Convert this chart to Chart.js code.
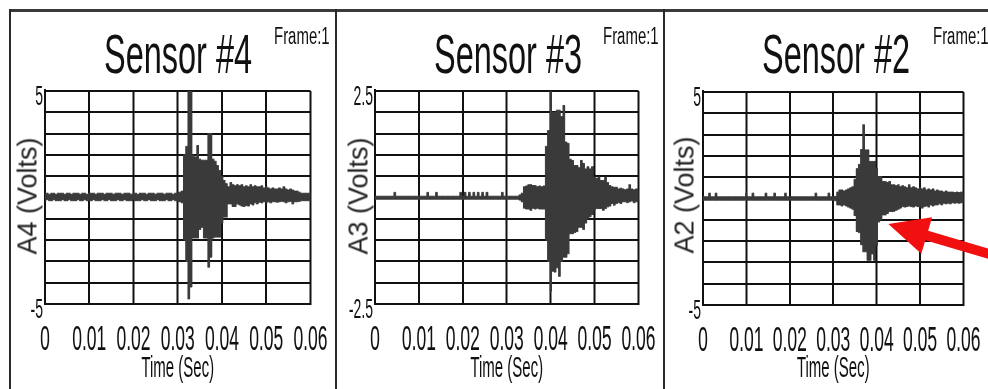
<!DOCTYPE html>
<html>
<head>
<meta charset="utf-8">
<script src="https://cdn.jsdelivr.net/npm/chart.js@4.4.0/dist/chart.umd.min.js"></script>
<style>
  html, body { margin: 0; padding: 0; overflow: hidden; }
  body { width: 988px; height: 389px; position: relative; background: #fff; color: #111;
         font-family: "Liberation Sans", Arial, sans-serif; }
  .wrap { position: absolute; top: 13px; transform: scaleX(0.5); transform-origin: 0 0; }
  .rule { position: absolute; background: #2a2a2a; }
  .title { position: absolute; top: 26px; font-size: 56px; line-height: 1; white-space: nowrap;
           transform: translateX(-50%) scaleX(0.58); }
  .frame { position: absolute; top: 25px; font-size: 23px; line-height: 1; white-space: nowrap;
           transform: scaleX(0.65); transform-origin: 0 0; }
  .ytitle { position: absolute; font-size: 27px; line-height: 1; white-space: nowrap; color: #222;
            transform: translate(-50%, -50%) rotate(-90deg); }
</style>
</head>
<body>

<div class="wrap" style="left:11px"><canvas id="c4" width="648" height="376"></canvas></div>
<div class="wrap" style="left:337px"><canvas id="c3" width="652" height="376"></canvas></div>
<div class="wrap" style="left:665px"><canvas id="c2" width="646" height="376"></canvas></div>

<!-- cadres des trois panneaux -->
<div class="rule" style="left:9px; top:9px; width:979px; height:3px; background:#3a3a3a"></div>
<div class="rule" style="left:9px; top:9px; width:2px; height:380px"></div>
<div class="rule" style="left:335px; top:9px; width:2px; height:380px"></div>
<div class="rule" style="left:663px; top:9px; width:2px; height:380px"></div>

<div class="title" style="left:178px">Sensor #4</div>
<div class="title" style="left:508px">Sensor #3</div>
<div class="title" style="left:836px">Sensor #2</div>

<div class="frame" style="left:274px">Frame:1</div>
<div class="frame" style="left:603px">Frame:1</div>
<div class="frame" style="left:933px">Frame:1</div>

<div class="ytitle" style="left:28px; top:196px">A4 (Volts)</div>
<div class="ytitle" style="left:359px; top:196px">A3 (Volts)</div>
<div class="ytitle" style="left:685px; top:195px">A2 (Volts)</div>

<script>
// Pas d'échantillonnage : une paire (max, min) toutes les 0.5 ms, de 0 à 0.06 s
const step = 0.0005;
const xTickLabels = ['0', '0.01', '0.02', '0.03', '0.04', '0.05', '0.06'];

// Sensor #4 (A4), échelle ±5 V
const s4TickLabels = ['-5', '5'];
const s4Hi = [
  0.2, 0.2, 0.15, 0.2, 0.2, 0.15, 0.2, 0.2, 0.2, 0.15,
  0.2, 0.2, 0.15, 0.2, 0.2, 0.2, 0.15, 0.2, 0.2, 0.15,
  0.2, 0.2, 0.2, 0.15, 0.2, 0.2, 0.2, 0.15, 0.2, 0.2,
  0.2, 0.15, 0.2, 0.2, 0.2, 0.15, 0.2, 0.2, 0.2, 0.15,
  0.2, 0.2, 0.15, 0.2, 0.2, 0.2, 0.15, 0.2, 0.2, 0.2,
  0.15, 0.2, 0.2, 0.2, 0.15, 0.2, 0.2, 0.2, 0.15, 0.2,
  0.2, 0.25, 0.3, 2.0, 2.4, 5.0, 5.0, 2.0, 1.9, 2.44,
  1.8, 1.75, 1.75, 1.75, 3.0, 3.0, 1.8, 1.7, 1.5, 1.27,
  1.0, 0.8, 0.65, 0.5, 0.7, 0.6, 0.55, 0.6, 0.55, 0.6,
  0.5, 0.55, 0.5, 0.6, 0.5, 0.55, 0.5, 0.5, 0.55, 0.45,
  0.5, 0.45, 0.4, 0.45, 0.4, 0.4, 0.45, 0.4, 0.5, 0.4,
  0.35, 0.4, 0.35, 0.3, 0.3, 0.25, 0.2, 0.2, 0.2, 0.2,
  0.2
];
const s4Lo = [
  -0.15, -0.1, -0.15, -0.15, -0.1, -0.15, -0.15, -0.15, -0.1, -0.15,
  -0.15, -0.1, -0.15, -0.15, -0.15, -0.1, -0.15, -0.15, -0.1, -0.15,
  -0.15, -0.15, -0.1, -0.15, -0.15, -0.15, -0.1, -0.15, -0.15, -0.1,
  -0.15, -0.15, -0.15, -0.1, -0.15, -0.15, -0.1, -0.15, -0.15, -0.15,
  -0.1, -0.15, -0.15, -0.15, -0.1, -0.15, -0.15, -0.1, -0.15, -0.15,
  -0.15, -0.1, -0.15, -0.15, -0.15, -0.1, -0.15, -0.15, -0.1, -0.15,
  -0.15, -0.2, -0.25, -2.0, -3.0, -4.76, -4.2, -1.9, -1.9, -1.9,
  -1.5, -1.4, -1.9, -1.9, -3.27, -2.8, -1.9, -1.86, -1.86, -1.86,
  -1.2, -0.92, -0.92, -0.3, -0.3, -0.42, -0.42, -0.3, -0.35, -0.4,
  -0.42, -0.38, -0.4, -0.3, -0.35, -0.25, -0.3, -0.22, -0.25, -0.2,
  -0.25, -0.2, -0.25, -0.2, -0.2, -0.22, -0.2, -0.18, -0.2, -0.25,
  -0.2, -0.18, -0.3, -0.2, -0.2, -0.18, -0.15, -0.15, -0.15, -0.15,
  -0.15
];

// Sensor #3 (A3), échelle ±2.5 V
const s3TickLabels = ['-2.5', '2.5'];
const s3Hi = [
  0.03, 0.03, 0.03, 0.03, 0.03, 0.03, 0.03, 0.03, 0.03, 0.12,
  0.03, 0.03, 0.03, 0.03, 0.03, 0.03, 0.03, 0.03, 0.03, 0.03,
  0.03, 0.03, 0.03, 0.03, 0.12, 0.03, 0.03, 0.03, 0.12, 0.03,
  0.03, 0.03, 0.03, 0.03, 0.03, 0.03, 0.03, 0.03, 0.03, 0.12,
  0.03, 0.12, 0.03, 0.12, 0.03, 0.12, 0.03, 0.12, 0.03, 0.12,
  0.03, 0.12, 0.03, 0.03, 0.03, 0.03, 0.03, 0.03, 0.12, 0.03,
  0.03, 0.03, 0.03, 0.03, 0.03, 0.03, 0.06, 0.1, 0.25, 0.27,
  0.3, 0.3, 0.28, 0.28, 0.25, 0.27, 0.25, 0.27, 1.2, 1.57,
  2.5, 2.0, 2.0, 2.05, 2.05, 1.9, 2.16, 1.3, 1.27, 0.9,
  0.87, 0.75, 0.75, 0.7, 0.87, 0.8, 0.67, 0.72, 0.67, 0.72,
  0.48, 0.45, 0.48, 0.4, 0.4, 0.48, 0.35, 0.28, 0.25, 0.24,
  0.24, 0.2, 0.22, 0.2, 0.18, 0.2, 0.3, 0.2, 0.18, 0.2,
  0.18
];
const s3Lo = [
  -0.04, -0.04, -0.04, -0.04, -0.04, -0.04, -0.04, -0.04, -0.04, -0.04,
  -0.04, -0.04, -0.04, -0.04, -0.04, -0.04, -0.04, -0.04, -0.04, -0.04,
  -0.04, -0.04, -0.04, -0.04, -0.04, -0.04, -0.04, -0.04, -0.04, -0.04,
  -0.04, -0.04, -0.04, -0.04, -0.04, -0.04, -0.04, -0.04, -0.04, -0.04,
  -0.04, -0.04, -0.04, -0.04, -0.04, -0.04, -0.04, -0.04, -0.04, -0.04,
  -0.04, -0.04, -0.04, -0.04, -0.04, -0.04, -0.04, -0.04, -0.04, -0.04,
  -0.04, -0.04, -0.04, -0.04, -0.04, -0.04, -0.06, -0.1, -0.25, -0.27,
  -0.27, -0.3, -0.25, -0.27, -0.25, -0.27, -0.27, -0.27, -1.0, -1.5,
  -2.2, -1.73, -1.75, -1.65, -1.85, -1.5, -1.4, -1.4, -1.32, -0.85,
  -0.85, -0.82, -0.8, -0.7, -0.7, -0.75, -0.6, -0.5, -0.45, -0.4,
  -0.3, -0.26, -0.26, -0.26, -0.3, -0.26, -0.22, -0.2, -0.14, -0.18,
  -0.14, -0.12, -0.14, -0.1, -0.1, -0.12, -0.1, -0.08, -0.12, -0.1,
  -0.1
];

// Sensor #2 (A2), échelle ±5 V
const s2TickLabels = ['-5', '5'];
const s2Hi = [
  0.08, 0.08, 0.08, 0.25, 0.08, 0.08, 0.25, 0.08, 0.08, 0.08,
  0.08, 0.08, 0.08, 0.08, 0.08, 0.08, 0.08, 0.08, 0.08, 0.08,
  0.25, 0.08, 0.08, 0.25, 0.08, 0.08, 0.08, 0.08, 0.08, 0.25,
  0.08, 0.08, 0.08, 0.25, 0.08, 0.08, 0.08, 0.08, 0.25, 0.08,
  0.08, 0.08, 0.08, 0.08, 0.08, 0.08, 0.08, 0.08, 0.08, 0.08,
  0.08, 0.08, 0.25, 0.08, 0.08, 0.08, 0.08, 0.08, 0.25, 0.08,
  0.08, 0.1, 0.3, 0.4, 0.4, 0.35, 0.4, 0.45, 0.5, 0.55,
  0.9, 1.4, 1.6, 2.3, 3.46, 2.28, 2.28, 1.74, 1.74, 1.74,
  1.42, 1.03, 1.03, 0.8, 0.8, 0.75, 0.8, 0.64, 0.64, 0.6,
  0.64, 0.55, 0.6, 0.55, 0.5, 0.64, 0.5, 0.55, 0.5, 0.45,
  0.5, 0.45, 0.5, 0.4, 0.45, 0.4, 0.45, 0.35, 0.4, 0.35,
  0.35, 0.3, 0.35, 0.3, 0.3, 0.3, 0.28, 0.3, 0.28, 0.3,
  0.25
];
const s2Lo = [
  -0.08, -0.08, -0.08, -0.08, -0.08, -0.08, -0.08, -0.08, -0.08, -0.08,
  -0.08, -0.08, -0.08, -0.08, -0.08, -0.08, -0.08, -0.08, -0.08, -0.08,
  -0.08, -0.08, -0.08, -0.08, -0.08, -0.08, -0.08, -0.08, -0.08, -0.08,
  -0.08, -0.08, -0.08, -0.08, -0.08, -0.08, -0.08, -0.08, -0.08, -0.08,
  -0.08, -0.08, -0.08, -0.08, -0.08, -0.08, -0.08, -0.08, -0.08, -0.08,
  -0.08, -0.08, -0.08, -0.08, -0.08, -0.08, -0.08, -0.08, -0.08, -0.08,
  -0.08, -0.1, -0.3, -0.3, -0.35, -0.3, -0.35, -0.4, -0.45, -0.5,
  -0.8, -1.55, -1.6, -2.17, -2.5, -2.5, -2.9, -2.9, -2.6, -2.9,
  -2.2, -1.1, -1.0, -0.77, -0.77, -0.7, -0.61, -0.61, -0.6, -0.55,
  -0.5, -0.45, -0.38, -0.4, -0.38, -0.35, -0.38, -0.4, -0.35, -0.38,
  -0.4, -0.45, -0.38, -0.35, -0.4, -0.3, -0.35, -0.3, -0.3, -0.25,
  -0.3, -0.22, -0.25, -0.22, -0.25, -0.2, -0.22, -0.2, -0.22, -0.2,
  -0.2
];

// Flèche rouge (annotation) : pointe et queue en coordonnées du graphe Sensor #2
const arrowTip = [0.0427, -1.2];
const arrowTail = [0.07, -2.85];

const FONT = '"Liberation Sans", Arial, sans-serif';
const SQUASH = 0.5; // les canvas sont compressés horizontalement (police étroite)
const TRACE = '#3a3a3a';

// Une enveloppe (max ou min) par pas de 0.5 ms
function envelope(vals) {
  return vals.map((v, i) => ({ x: i * step, y: v }));
}

const arrowPlugin = {
  id: 'arrow',
  afterDraw(chart, args, opts) {
    if (!opts.tip) return;
    const { ctx, scales: { x, y } } = chart;
    const tx = x.getPixelForValue(opts.tip[0]) * SQUASH, ty = y.getPixelForValue(opts.tip[1]);
    const ex = x.getPixelForValue(opts.tail[0]) * SQUASH, ey = y.getPixelForValue(opts.tail[1]);
    const len = Math.hypot(ex - tx, ey - ty);
    const ux = (ex - tx) / len, uy = (ey - ty) / len;
    const nx = -uy, ny = ux;
    const head = 40, half = 19, shaft = 5;
    const bx = tx + ux * head, by = ty + uy * head;
    const pts = [
      [tx, ty],
      [bx + nx * half, by + ny * half],
      [bx + nx * shaft, by + ny * shaft],
      [ex + nx * shaft, ey + ny * shaft],
      [ex - nx * shaft, ey - ny * shaft],
      [bx - nx * shaft, by - ny * shaft],
      [bx - nx * half, by - ny * half]
    ];
    ctx.save();
    ctx.beginPath();
    pts.forEach(([px, py], k) => k ? ctx.lineTo(px / SQUASH, py) : ctx.moveTo(px / SQUASH, py));
    ctx.closePath();
    ctx.fillStyle = opts.color;
    ctx.fill();
    ctx.restore();
  }
};

function sensorChart(id, s) {
  const line = { borderColor: TRACE, borderWidth: 1, pointRadius: 0, stepped: 'middle' };
  return new Chart(document.getElementById(id), {
    type: 'line',
    data: {
      datasets: [
        { ...line, data: envelope(s.hi), fill: '+1', backgroundColor: TRACE },
        { ...line, data: envelope(s.lo), fill: false }
      ]
    },
    options: {
      responsive: false,
      animation: false,
      events: [],
      layout: { padding: { left: 0, right: s.padRight, top: s.padTop, bottom: 0 } },
      plugins: {
        legend: { display: false },
        tooltip: { enabled: false },
        arrow: s.arrow || {}
      },
      scales: {
        x: {
          type: 'linear', min: 0, max: 0.06,
          ticks: {
            stepSize: 0.01, padding: 15, autoSkip: false, maxRotation: 0,
            color: '#111', font: { family: FONT, size: 35 },
            callback: (v, i) => xTickLabels[i]
          },
          grid: { color: '#111', lineWidth: 4, drawTicks: false },
          border: { color: '#111', width: 2 },
          title: {
            display: true, text: 'Time (Sec)', color: '#111',
            font: { family: FONT, size: 30 }, padding: { top: 0, bottom: 2 }
          },
          afterFit: sc => { sc.height = s.axisH; }
        },
        y: {
          min: -s.lim, max: s.lim,
          ticks: {
            stepSize: s.lim / 5, padding: 4, labelOffset: 6, autoSkip: false,
            color: '#111', font: { family: FONT, size: 28 },
            callback: (v, i, t) => i === 0 ? s.tickLabels[0] : (i === t.length - 1 ? s.tickLabels[1] : '')
          },
          grid: { color: '#111', lineWidth: 2, drawTicks: false },
          border: { color: '#111', width: 4 },
          afterFit: sc => { sc.width = s.plotLeft; }
        }
      }
    },
    plugins: [arrowPlugin]
  });
}

sensorChart('c4', { hi: s4Hi, lo: s4Lo, lim: 5, tickLabels: s4TickLabels,
  plotLeft: 68, padRight: 46, padTop: 78, axisH: 85 });
sensorChart('c3', { hi: s3Hi, lo: s3Lo, lim: 2.5, tickLabels: s3TickLabels,
  plotLeft: 76, padRight: 44, padTop: 78, axisH: 85 });
sensorChart('c2', { hi: s2Hi, lo: s2Lo, lim: 5, tickLabels: s2TickLabels,
  plotLeft: 76, padRight: 36, padTop: 79, axisH: 84,
  arrow: { tip: arrowTip, tail: arrowTail, color: '#f01010' } });
</script>
</body>
</html>
